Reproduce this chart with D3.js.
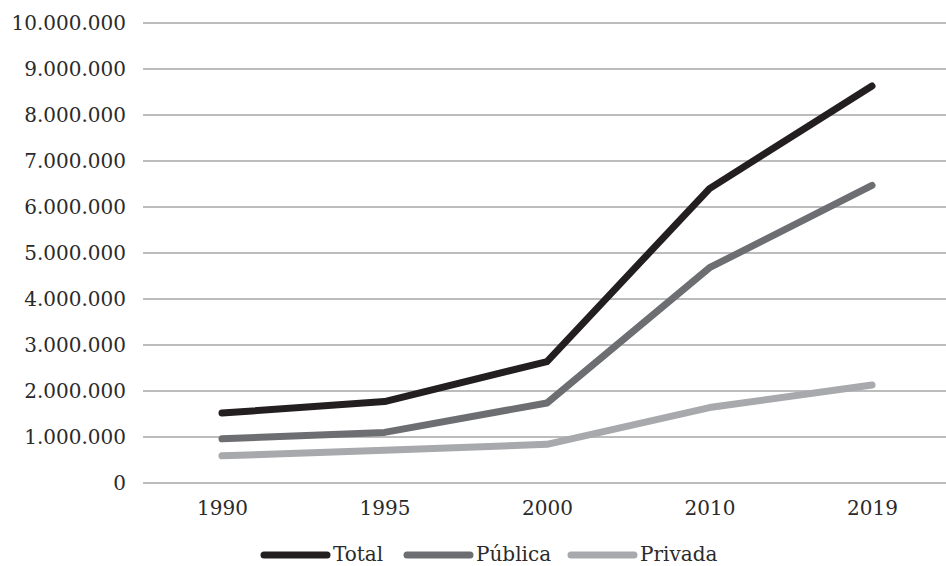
<!DOCTYPE html>
<html>
<head>
<meta charset="utf-8">
<script src="https://cdn.jsdelivr.net/npm/d3@7"></script>
<style>
  html, body { margin: 0; padding: 0; background: #fff; }
  svg { display: block; font-family: "DejaVu Serif", serif; }
</style>
</head>
<body>
<div id="chart"></div>
<script>
const YEARS = ["1990", "1995", "2000", "2010", "2019"];
const TOTAL = [1520000, 1770000, 2640000, 6400000, 8630000];
const PUBLICA = [960000, 1100000, 1740000, 4680000, 6470000];
const PRIVADA = [590000, 710000, 840000, 1640000, 2130000];
const Y_TICKS = d3.range(0, 10000001, 1000000);

const SERIES = [
  { name: "Total", values: TOTAL, color: "#231f20" },
  { name: "Pública", values: PUBLICA, color: "#6d6e71" },
  { name: "Privada", values: PRIVADA, color: "#a7a9ac" },
];

const width = 946;
const height = 566;
const grid = { left: 143, right: 946 };

const fmt = (v) => d3.format(",")(v).replace(/,/g, ".");

const svg = d3.select("#chart").append("svg").attr("width", width).attr("height", height);

const x = d3.scalePoint().domain(YEARS).range([222, 872]);
const y = d3.scaleLinear().domain([0, 10000000]).range([483, 23]);

// gridlines
svg.append("g")
  .selectAll("line")
  .data(Y_TICKS)
  .join("line")
  .attr("x1", grid.left)
  .attr("x2", grid.right)
  .attr("y1", (d) => y(d))
  .attr("y2", (d) => y(d))
  .attr("stroke", "#a6a6a6")
  .attr("stroke-width", 1.3);

// y axis labels
svg.append("g")
  .attr("transform", `translate(${grid.left}, 0)`)
  .call(d3.axisLeft(y).tickValues(Y_TICKS).tickSize(0).tickPadding(17).tickFormat(fmt))
  .call((g) => g.select(".domain").remove())
  .call((g) => g.selectAll("text").attr("font-family", "DejaVu Serif").attr("font-size", 20).attr("fill", "#2a2a2a"));

// x axis labels
svg.append("g")
  .attr("transform", `translate(0, 483)`)
  .call(d3.axisBottom(x).tickSize(0).tickPadding(18))
  .call((g) => g.select(".domain").remove())
  .call((g) => g.selectAll("text").attr("font-family", "DejaVu Serif").attr("font-size", 20).attr("fill", "#2a2a2a"));

const line = d3.line()
  .x((d, i) => x(YEARS[i]))
  .y((d) => y(d));

svg.append("g")
  .selectAll("path")
  .data(SERIES.slice().reverse())
  .join("path")
  .attr("d", (s) => line(s.values))
  .attr("fill", "none")
  .attr("stroke", (s) => s.color)
  .attr("stroke-width", 7)
  .attr("stroke-linecap", "round")
  .attr("stroke-linejoin", "round");

// legend
const legendX = [264, 407, 571];
const legend = svg.append("g");
SERIES.forEach((s, i) => {
  const g = legend.append("g").attr("transform", `translate(${legendX[i]}, 555)`);
  g.append("line")
    .attr("x1", 0).attr("x2", 63)
    .attr("y1", 0).attr("y2", 0)
    .attr("stroke", s.color)
    .attr("stroke-width", 7)
    .attr("stroke-linecap", "round");
  g.append("text")
    .attr("x", 69)
    .attr("y", 6)
    .attr("font-size", 20)
    .attr("fill", "#2a2a2a")
    .text(s.name);
});
</script>
</body>
</html>
